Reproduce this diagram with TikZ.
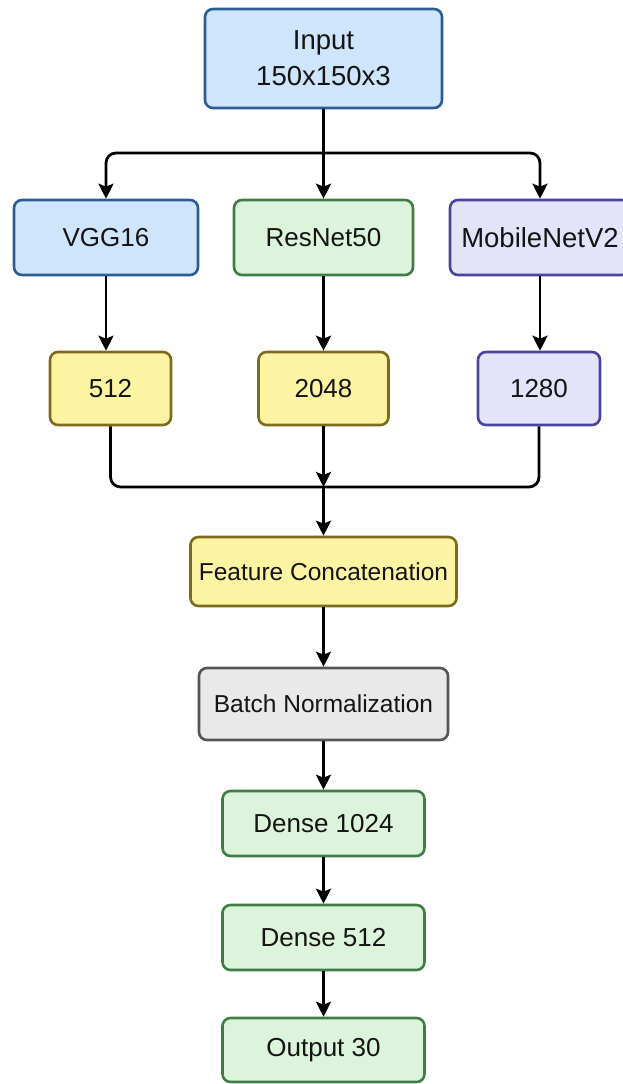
\documentclass[tikz,border=0pt]{standalone}
\usepackage{fontspec}
\setmainfont{Liberation Sans}
\usetikzlibrary{arrows.meta}
\definecolor{bluefill}{HTML}{CFE5FB}
\definecolor{blueline}{HTML}{2B5C94}
\definecolor{greenfill}{HTML}{DCF3DC}
\definecolor{greenline}{HTML}{3F7D45}
\definecolor{lavfill}{HTML}{E3E3F9}
\definecolor{lavline}{HTML}{4A44A0}
\definecolor{yelfill}{HTML}{FCF4A3}
\definecolor{yelline}{HTML}{7D6A1C}
\definecolor{grayfill}{HTML}{E9E9E9}
\definecolor{grayline}{HTML}{555555}
\definecolor{ink}{HTML}{141414}
\tikzset{
  box/.style={draw, line width=2.6pt, rounded corners=8pt, inner sep=0pt,
    align=center, text=ink, font=\fontsize{26}{32}\selectfont},
  bigtext/.style={font=\fontsize{27.5}{36}\selectfont},
  smalltext/.style={font=\fontsize{24.5}{30}\selectfont},
  bluebox/.style={box, fill=bluefill, draw=blueline},
  greenbox/.style={box, fill=greenfill, draw=greenline},
  lavbox/.style={box, fill=lavfill, draw=lavline},
  yelbox/.style={box, fill=yelfill, draw=yelline},
  graybox/.style={box, fill=grayfill, draw=grayline},
  link/.style={line width=2.8pt, draw=black, rounded corners=10pt},
  arrow/.style={link, -{Stealth[length=15pt, width=15pt, inset=3pt]}}
}
\begin{document}
\begin{tikzpicture}[x=1pt, y=-1pt]
\useasboundingbox (0,0) rectangle (623,1084);

% input and the three backbones
\node[bluebox, bigtext, minimum width=237pt, minimum height=99pt] (in) at (323.5,58.5) {Input\\150x150x3};
\node[bluebox, minimum width=184pt, minimum height=75pt] (vgg) at (106,237.5) {VGG16};
\node[greenbox, minimum width=179pt, minimum height=75pt] (res) at (323.5,237.5) {ResNet50};
\node[lavbox, bigtext, minimum width=180pt, minimum height=75pt] (mob) at (540,237.5) {MobileNetV2};

% feature sizes
\node[yelbox, minimum width=121pt, minimum height=73pt] (f512) at (110.5,388.5) {512};
\node[yelbox, minimum width=130pt, minimum height=73pt] (f2048) at (323.5,388.5) {2048};
\node[lavbox, minimum width=122pt, minimum height=73pt] (f1280) at (539,388.5) {1280};

% head
\node[yelbox, smalltext, minimum width=266pt, minimum height=69pt] (cat) at (323.5,571.5) {Feature Concatenation};
\node[graybox, smalltext, minimum width=249pt, minimum height=72pt] (bn) at (323.5,704) {Batch Normalization};
\node[greenbox, minimum width=202pt, minimum height=65pt] (d1) at (323.5,823.5) {Dense 1024};
\node[greenbox, minimum width=202pt, minimum height=65pt] (d2) at (323.5,937.5) {Dense 512};
\node[greenbox, minimum width=202pt, minimum height=64pt] (out) at (323.5,1050) {Output 30};

% split and join points
\coordinate (split) at (323.5,153);
\coordinate (join) at (323.5,487);

% connectors
\draw[link] (in.south) -- (split);
\draw[arrow] (split) -- (res.north);
\draw[arrow] (split) -| (vgg.north);
\draw[arrow] (split) -| (mob.north);

\draw[arrow] (vgg.south) -- (vgg.south |- f512.north);
\draw[arrow] (res.south) -- (f2048.north);
\draw[arrow] (mob.south) -- (mob.south |- f1280.north);

\draw[link] (f512.south) |- (join);
\draw[link] (f1280.south) |- (join);
\draw[arrow] (f2048.south) -- (join);
\draw[arrow] (join) -- (cat.north);

\draw[arrow] (cat) -- (bn);
\draw[arrow] (bn) -- (d1);
\draw[arrow] (d1) -- (d2);
\draw[arrow] (d2) -- (out);
\end{tikzpicture}
\end{document}
